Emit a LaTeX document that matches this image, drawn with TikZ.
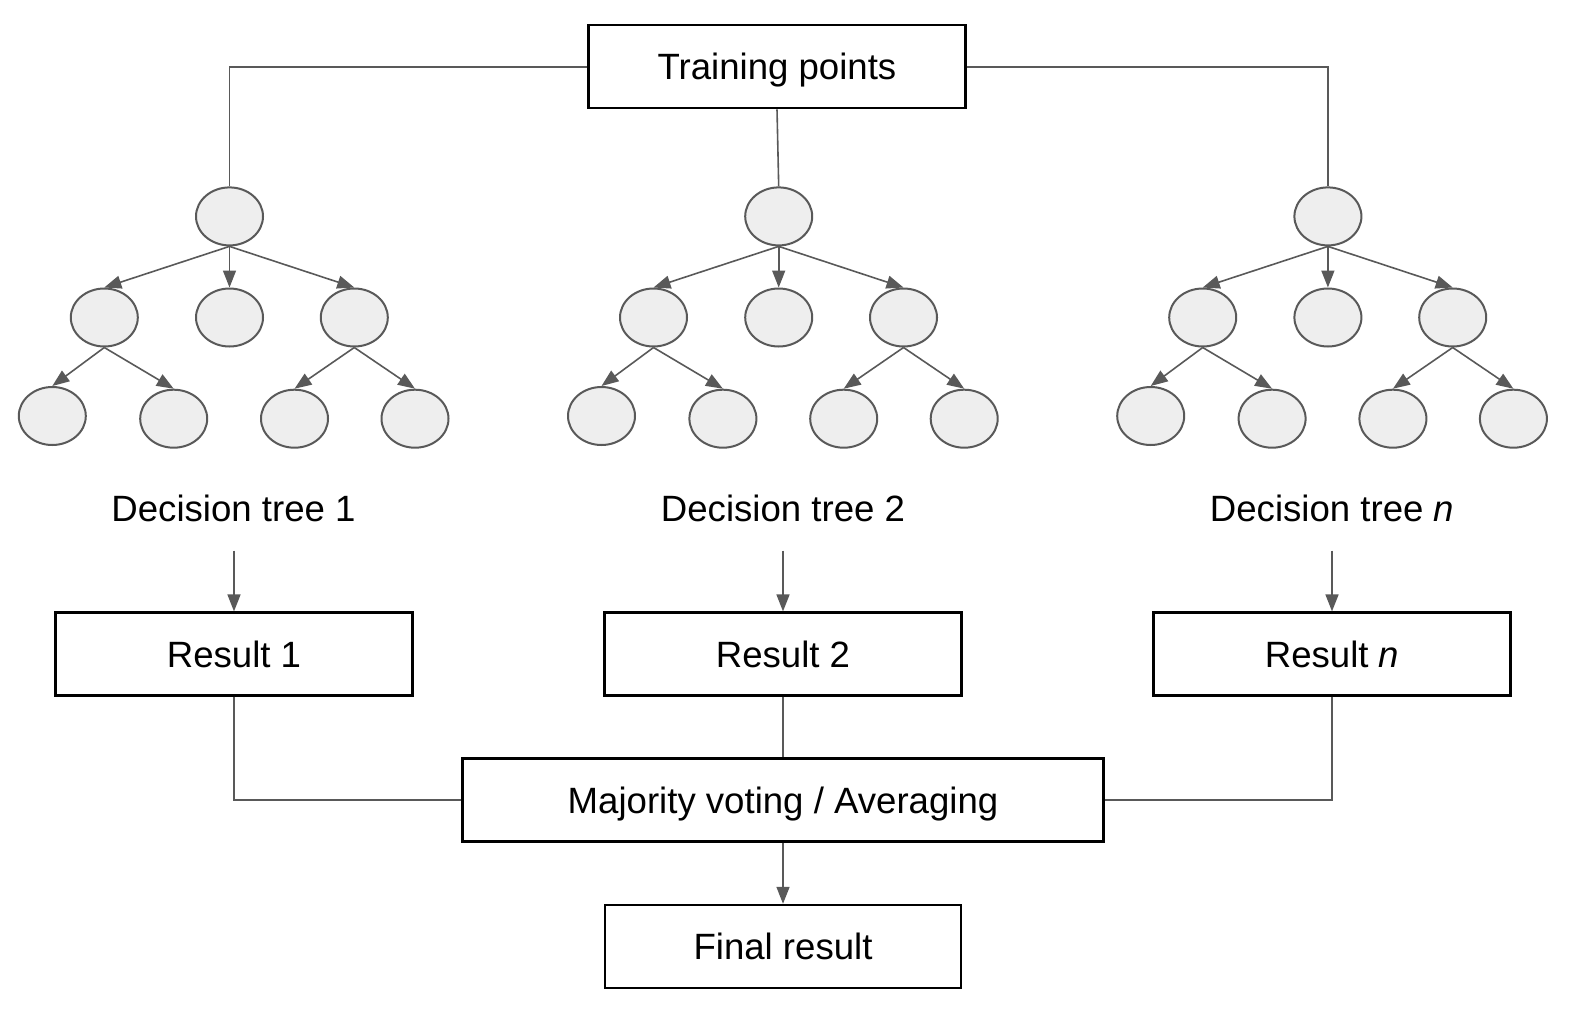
\documentclass[tikz,border=0pt]{standalone}
\usepackage{fontspec}
\setmainfont{Liberation Sans}
\usetikzlibrary{arrows.meta,shapes.geometric}
\definecolor{linegray}{HTML}{595959}
\definecolor{nodefill}{HTML}{EEEEEE}
\begin{document}
\begin{tikzpicture}[x=1pt,y=-1pt,
  every node/.style={font=\fontsize{36.6}{44}\selectfont},
  tnode/.style={ellipse,draw=linegray,fill=nodefill,line width=2pt,minimum width=67pt,minimum height=58pt,inner sep=0pt},
  box/.style={rectangle,draw=black,line width=2.2pt,inner sep=0pt,text height=26.2pt,text depth=0pt,minimum height=83pt},
  conn/.style={draw=linegray,line width=1.6pt},
  arr/.style={conn,-{Triangle[length=17pt,width=13pt]},color=linegray},
  lbl/.style={anchor=base,inner sep=0pt}
]
\useasboundingbox (0,0) rectangle (1589,1009);
\node[box,minimum width=377pt] (train) at (777,66.7) {Training points};
\foreach \i/\ox in {1/0,2/549.2,3/1098.4}{
  \node[tnode] (t\i r) at (229.5+\ox,216.4) {};
  \node[tnode] (t\i a) at (104.3+\ox,317.5) {};
  \node[tnode] (t\i b) at (229.5+\ox,317.5) {};
  \node[tnode] (t\i c) at (354.3+\ox,317.5) {};
  \node[tnode] (t\i aa) at (52.3+\ox,416) {};
  \node[tnode] (t\i ab) at (173.7+\ox,418.7) {};
  \node[tnode] (t\i ca) at (294.5+\ox,418.7) {};
  \node[tnode] (t\i cb) at (415+\ox,418.7) {};
  \draw[arr] (t\i r.south) -- (t\i a.north);
  \draw[arr] (t\i r.south) -- (t\i b.north);
  \draw[arr] (t\i r.south) -- (t\i c.north);
  \draw[arr] (t\i a.south) -- (t\i aa.north);
  \draw[arr] (t\i a.south) -- (t\i ab.north);
  \draw[arr] (t\i c.south) -- (t\i ca.north);
  \draw[arr] (t\i c.south) -- (t\i cb.north);
}
\draw[conn] (train.west) -| (t1r.north);
\draw[conn] (train.east) -| (t3r.north);
\draw[conn] (train.south) -- (t2r.north);
\node[lbl] (l1) at (233.5,521) {Decision tree 1};
\node[lbl] (l2) at (783,521) {Decision tree 2};
\node[lbl] (l3) at (1332,521) {Decision tree \textit{n}};
\coordinate (d1) at (234,550.5);
\coordinate (d2) at (783,550.5);
\coordinate (d3) at (1332,550.5);
\node[box,minimum width=357pt] (r1) at (234,654) {Result 1};
\node[box,minimum width=357pt] (r2) at (783,654) {Result 2};
\node[box,minimum width=357pt] (r3) at (1332,654) {Result \textit{n}};
\draw[arr] (d1) -- (r1.north);
\draw[arr] (d2) -- (r2.north);
\draw[arr] (d3) -- (r3.north);
\node[box,minimum width=641pt] (maj) at (783,800) {Majority voting / Averaging};
\node[box,minimum width=356pt] (fin) at (783,946.4) {Final result};
\draw[conn] (r1.south) |- (maj.west);
\draw[conn] (r3.south) |- (maj.east);
\draw[conn] (r2.south) -- (maj.north);
\draw[arr] (maj.south) -- (fin.north);
\end{tikzpicture}
\end{document}
